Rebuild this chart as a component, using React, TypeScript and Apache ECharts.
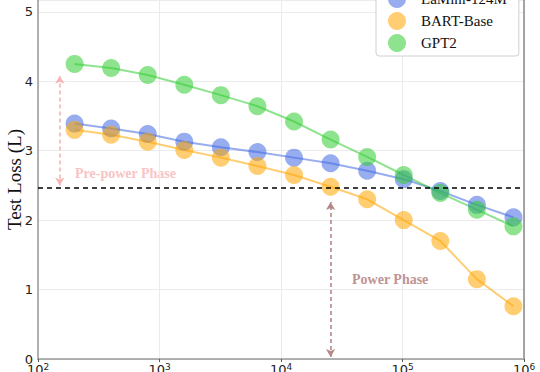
import React, { useEffect, useRef } from "react";
import * as echarts from "echarts";

const steps = [200, 400, 800, 1600, 3200, 6400, 12800, 25600, 51200, 102400, 204800, 409600, 819200];
const lamini = [3.39, 3.32, 3.24, 3.13, 3.05, 2.98, 2.90, 2.82, 2.71, 2.59, 2.42, 2.22, 2.04];
const bart = [3.30, 3.23, 3.13, 3.01, 2.90, 2.78, 2.65, 2.48, 2.30, 2.00, 1.70, 1.15, 0.76];
const gpt2 = [4.25, 4.19, 4.09, 3.95, 3.80, 3.64, 3.42, 3.16, 2.91, 2.65, 2.39, 2.15, 1.91];
const seriesNames = ["LaMini-124M", "BART-Base", "GPT2"];
const threshold = 2.46;
const xTicks = [100, 1000, 10000, 100000, 1000000];
const yTicks = [0, 1, 2, 3, 4, 5];

export default function App() {
  const ref = useRef<HTMLDivElement>(null);
  useEffect(() => {
    const chart = echarts.init(ref.current!, null, { renderer: "svg" });
    const mk = (name: string, data: number[], color: string) => ({
      name,
      type: "line",
      data: steps.map((s, i) => [s, data[i]]),
      symbol: "circle",
      symbolSize: 18,
      itemStyle: { color, opacity: 0.55 },
      lineStyle: { color, width: 2, opacity: 0.55 },
      z: 3,
    });
    const s0: any = mk(seriesNames[0], lamini, "#4169E1");
    s0.markLine = {
      silent: true,
      animation: false,
      label: { show: false },
      data: [
        [
          { coord: [100, threshold], symbol: "none", lineStyle: { color: "#000", type: [5, 4], width: 1.6 } },
          { coord: [1000000, threshold], symbol: "none" },
        ],
        [
          { coord: [151, 2.5], symbol: "arrow", symbolSize: [7, 8], lineStyle: { color: "#f7b4b4", type: [4, 3], width: 1.6 } },
          { coord: [151, 4.08], symbol: "arrow", symbolSize: [7, 8] },
        ],
        [
          { coord: [25600, 0.03], symbol: "arrow", symbolSize: [7, 8], lineStyle: { color: "#b48888", type: [4, 3], width: 1.6 } },
          { coord: [25600, 2.26], symbol: "arrow", symbolSize: [7, 8] },
        ],
      ],
    };
    chart.setOption({
      animation: false,
      grid: { left: 38, right: 16, top: 0, bottom: 13, outerBoundsMode: "none", containLabel: false },
      legend: {
        orient: "vertical",
        left: 376,
        top: -16,
        padding: [6, 12, 4, 12],
        itemWidth: 18,
        itemHeight: 18,
        itemGap: 4,
        icon: "circle",
        backgroundColor: "#fff",
        borderColor: "#d0d0d0",
        borderWidth: 1,
        borderRadius: 3,
        textStyle: { fontFamily: "Liberation Serif", fontSize: 15, color: "#111", padding: [0, 0, 0, 10] },
        data: seriesNames,
      },
      xAxis: {
        type: "log",
        min: 100,
        max: 1000000,
        logBase: 10,
        axisLine: { show: true, onZero: false, lineStyle: { color: "#999", width: 1.5 } },
        axisTick: { show: true, length: 3, lineStyle: { color: "#555" } },
        minorTick: { show: false },
        splitLine: { show: true, lineStyle: { color: "#ebebeb", width: 1 } },
        axisLabel: {
          margin: 3,
          fontFamily: "DejaVu Sans",
          fontSize: 13,
          color: "#222",
          formatter: (v: number) => {
            const e = Math.round(Math.log10(v));
            return xTicks.includes(Math.round(v)) ? `10{sup|${e}}` : "";
          },
          rich: { sup: { fontSize: 9, verticalAlign: "top", padding: [0, 0, 6, 0], fontFamily: "DejaVu Sans", color: "#222" } },
        },
      },
      yAxis: [
        {
          type: "value",
          min: 0,
          max: 5.17,
          interval: 1,
          name: "Test Loss (L)",
          nameLocation: "middle",
          nameGap: 14,
          nameMoveOverlap: false,
          nameTextStyle: { fontFamily: "Liberation Serif", fontSize: 19, color: "#111" },
          axisLine: { show: true, lineStyle: { color: "#999", width: 1.5 } },
          axisTick: { show: false },
          splitLine: { show: true, lineStyle: { color: "#ebebeb", width: 1 } },
          axisLabel: {
            margin: 5,
            fontFamily: "DejaVu Sans",
            fontSize: 13,
            color: "#222",
            formatter: (v: number) => (yTicks.includes(v) ? String(v) : ""),
          },
        },
        {
          type: "value",
          min: 0,
          max: 5.17,
          position: "right",
          axisLine: { show: true, lineStyle: { color: "#888", width: 1.5 } },
          axisTick: { show: false },
          axisLabel: { show: false },
          splitLine: { show: false },
        },
      ],
      graphic: [
        {
          type: "text",
          left: 75,
          top: 166,
          style: { text: "Pre-power Phase", font: "bold 14px 'Liberation Serif'", fill: "#f9c4c4" },
        },
        {
          type: "text",
          left: 352,
          top: 272,
          style: { text: "Power Phase", font: "bold 14px 'Liberation Serif'", fill: "#c09393" },
        },
      ],
      series: [s0, mk(seriesNames[1], bart, "#FFA500"), mk(seriesNames[2], gpt2, "#32CD32")],
    });
    return () => chart.dispose();
  }, []);
  return <div ref={ref} style={{ width: 540, height: 372, position: "absolute", left: 0, top: 0 }} />;
}
